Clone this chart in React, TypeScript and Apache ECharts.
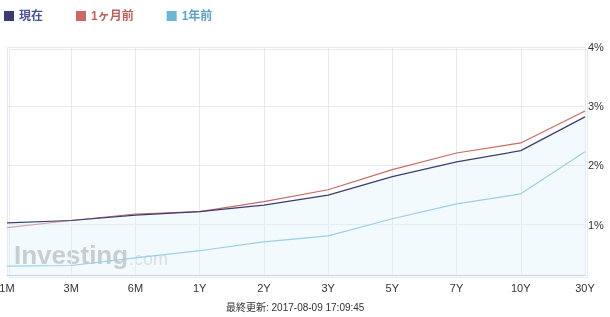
import React, { useEffect, useRef } from "react";
import * as echarts from "echarts";

const categories = ["1M", "3M", "6M", "1Y", "2Y", "3Y", "5Y", "7Y", "10Y", "30Y"];
const current = [1.03, 1.07, 1.16, 1.22, 1.33, 1.5, 1.81, 2.06, 2.25, 2.82];
const monthAgo = [0.95, 1.07, 1.18, 1.22, 1.39, 1.59, 1.93, 2.21, 2.38, 2.92];
const yearAgo = [0.3, 0.31, 0.44, 0.56, 0.71, 0.81, 1.1, 1.35, 1.52, 2.23];
const yTicks = [1, 2, 3, 4];
const seriesNames = ["現在", "1ヶ月前", "1年前"];
const updatedText = "最終更新: 2017-08-09 17:09:45";

export default function App() {
  const ref = useRef<HTMLDivElement>(null);
  useEffect(() => {
    if (!ref.current) return;
    const chart = echarts.init(ref.current, null, { renderer: "svg" });
    const font = "Arial, 'Liberation Sans', 'Noto Sans CJK JP', sans-serif";
    chart.setOption({
      animation: false,
      textStyle: { fontFamily: font },
      legend: {
        left: 4,
        top: 10,
        padding: 0,
        itemWidth: 10,
        itemHeight: 10,
        itemGap: 33,
        icon: "rect",
        data: [
          { name: seriesNames[0], textStyle: { color: "#4b5298" } },
          { name: seriesNames[1], textStyle: { color: "#c0605a" } },
          { name: seriesNames[2], textStyle: { color: "#5aa2c6" } },
        ],
        textStyle: { fontSize: 12, fontWeight: "bold", fontFamily: font },
      },
      grid: { left: 7, right: 25, top: 47, bottom: 42, outerBoundsMode: "none", containLabel: false },
      xAxis: {
        type: "category",
        data: categories,
        boundaryGap: false,
        axisLine: { lineStyle: { color: "#c3d0e0", width: 1 } },
        axisTick: { show: false },
        axisLabel: { color: "#333", fontSize: 11, margin: 7, fontFamily: font },
        splitLine: { show: true, lineStyle: { color: "#e6e9f4", width: 1 } },
      },
      yAxis: {
        type: "value",
        position: "right",
        min: 0.15,
        max: 4,
        minInterval: 1,
        splitNumber: 5,
        axisLine: { show: false },
        axisTick: { show: false },
        axisLabel: {
          color: "#333",
          fontSize: 11,
          margin: 3,
          fontFamily: font,
          formatter: (v: number) => (yTicks.indexOf(Math.round(v * 1000) / 1000) >= 0 ? v + "%" : ""),
        },
        splitLine: { show: true, lineStyle: { color: "#e6e9f4", width: 1 } },
      },
      graphic: [
        {
          type: "rect",
          left: 7,
          top: 47,
          shape: { width: 578, height: 228 },
          style: { fill: "none", stroke: "#e6e9f4", lineWidth: 1 },
          z: -1,
        },
        {
          type: "text",
          left: 14,
          top: 242,
          z: 0,
          style: {
            text: "Investing",
            fill: "rgba(160,160,160,0.8)",
            font: "bold 26px Arial, 'Liberation Sans', sans-serif",
          },
        },
        {
          type: "text",
          left: 129,
          top: 250,
          z: 0,
          style: {
            text: ".com",
            fill: "rgba(170,170,170,0.55)",
            font: "18px Arial, 'Liberation Sans', sans-serif",
          },
        },
        {
          type: "text",
          left: 226,
          top: 302,
          style: {
            text: updatedText,
            fill: "#333",
            font: "10px " + font,
          },
        },
      ],
      series: [
        {
          name: seriesNames[0],
          type: "line",
          data: current,
          symbol: "none",
          z: 3,
          lineStyle: { color: "#3a3d70", width: 1.2 },
          itemStyle: { color: "#3a3d70" },
          areaStyle: { color: "rgba(225,242,253,0.6)", origin: "start" },
        },
        {
          name: seriesNames[1],
          type: "line",
          data: monthAgo,
          symbol: "none",
          z: 2,
          lineStyle: { color: "#c86b63", width: 1.2 },
          itemStyle: { color: "#c86b63" },
        },
        {
          name: seriesNames[2],
          type: "line",
          data: yearAgo,
          symbol: "none",
          z: 2,
          lineStyle: { color: "#6bb6d8", width: 1.2 },
          itemStyle: { color: "#6bb6d8" },
        },
      ],
    });
    return () => chart.dispose();
  }, []);
  return <div ref={ref} style={{ position: "fixed", left: 0, top: 0, width: 610, height: 317 }} />;
}
